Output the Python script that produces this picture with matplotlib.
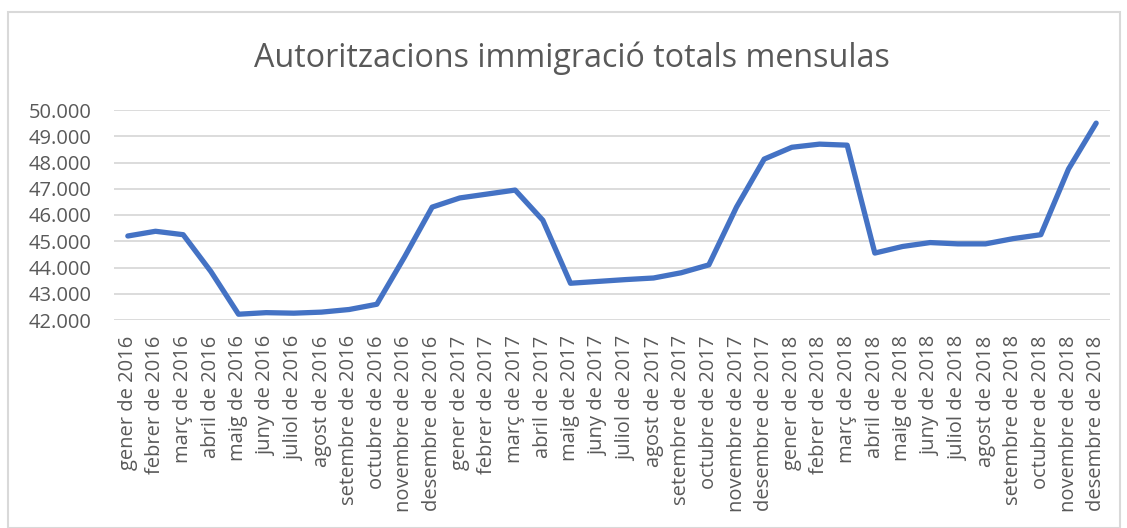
import matplotlib
matplotlib.use("Agg")
import matplotlib.pyplot as plt
from matplotlib.ticker import FuncFormatter, FixedLocator
from matplotlib.patches import Rectangle

months = ["gener", "febrer", "març", "abril", "maig", "juny", "juliol",
          "agost", "setembre", "octubre", "novembre", "desembre"]
years = [2016, 2017, 2018]
labels = [f"{m} de {y}" for y in years for m in months]

values = [45200, 45380, 45250, 43850, 42220, 42280, 42260, 42300, 42400, 42600, 44400, 46300,
          46650, 46800, 46950, 45800, 43400, 43470, 43540, 43600, 43800, 44100, 46300, 48130,
          48580, 48700, 48660, 44550, 44800, 44950, 44900, 44900, 45100, 45250, 47750, 49500]

yticks = [42000, 43000, 44000, 45000, 46000, 47000, 48000, 49000, 50000]
title = "Autoritzacions immigració totals mensulas"

plt.rcParams['font.family'] = ['Open Sans', 'DejaVu Sans']
txt = "#595959"

fig = plt.figure(figsize=(11.27, 5.28), dpi=100)
fig.patches.append(Rectangle((8/1127, 0), (1120-8)/1127, 1-12/528, transform=fig.transFigure,
                             fill=False, edgecolor="#D9D9D9", linewidth=1.5))
ax = fig.add_axes([114/1127, 1-320/528, (1110-114)/1127, (320-110)/528])

x = list(range(len(values)))
ax.plot(x, values, color="#4472C4", linewidth=3.8, solid_capstyle="round", solid_joinstyle="round", zorder=3)

ax.set_xlim(-0.5, len(values)-0.5)
ax.set_ylim(42000, 50000)
ax.yaxis.set_major_locator(FixedLocator(yticks))
ax.yaxis.set_major_formatter(FuncFormatter(lambda v, p: f"{int(v):,}".replace(",", ".")))
ax.set_xticks(x)
ax.set_xticklabels(labels, rotation=90, fontsize=14.5, color=txt)
for t in ax.get_yticklabels():
    t.set_fontsize(14.5)
    t.set_color(txt)
ax.tick_params(axis="both", length=0)
ax.tick_params(axis="y", pad=16)
ax.tick_params(axis="x", pad=11)
ax.grid(axis="y", color="#D9D9D9", linewidth=1.3)
ax.set_axisbelow(True)
for s in ax.spines.values():
    s.set_visible(False)

fig.text(572/1127, 1-58/528, title, ha="center", va="center", fontsize=23.2, color=txt)

fig.savefig("out.png", dpi=100)
